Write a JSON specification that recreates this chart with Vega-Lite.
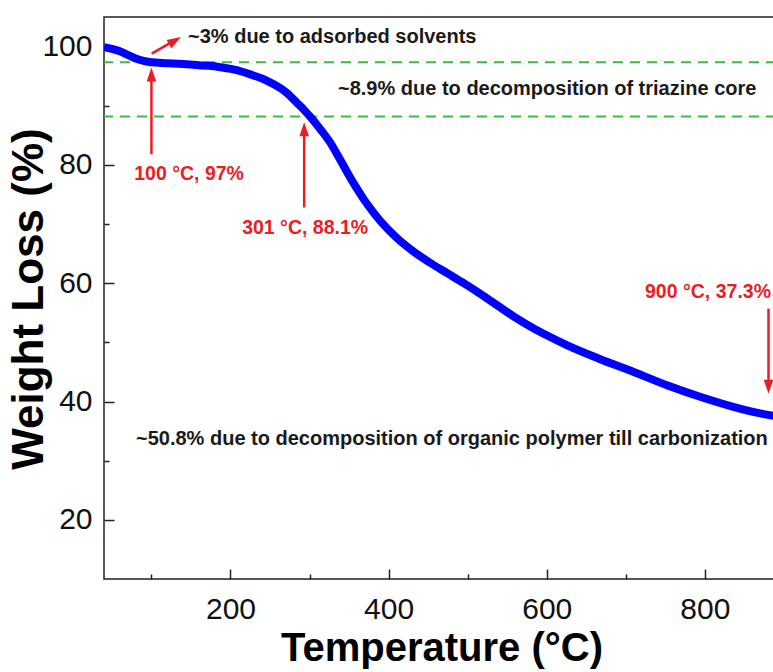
{
  "$schema": "https://vega.github.io/schema/vega-lite/v6.json",
  "autosize": "none",
  "width": 672,
  "height": 562,
  "padding": {"left": 104, "top": 17, "right": 0, "bottom": 93},
  "background": "white",
  "config": {
    "view": {"stroke": "#222222", "strokeWidth": 1.5},
    "axis": {
      "grid": false,
      "domain": false,
      "tickColor": "#222222",
      "tickWidth": 1.5,
      "labelColor": "#111111",
      "labelFont": "Liberation Sans",
      "labelFontSize": 30,
      "titleFont": "Liberation Sans",
      "titleFontWeight": "bold",
      "titleColor": "#000000"
    }
  },
  "datasets": {
    "tga": [
      {"T": 40, "W": 99.9}, {"T": 50, "W": 99.6}, {"T": 60, "W": 99.2}, {"T": 70, "W": 98.6},
      {"T": 81, "W": 97.95}, {"T": 90, "W": 97.6}, {"T": 100, "W": 97.35}, {"T": 120, "W": 97.2},
      {"T": 140, "W": 97.05}, {"T": 160, "W": 96.85}, {"T": 183, "W": 96.6}, {"T": 205, "W": 96.1},
      {"T": 225, "W": 95.3}, {"T": 245, "W": 94.3}, {"T": 259, "W": 93.3}, {"T": 270, "W": 92.3},
      {"T": 284, "W": 90.5}, {"T": 293, "W": 89.3}, {"T": 301, "W": 88.1}, {"T": 315, "W": 85.8},
      {"T": 326, "W": 83.8}, {"T": 337, "W": 81.3}, {"T": 347, "W": 78.9}, {"T": 358, "W": 76.4},
      {"T": 368, "W": 74.3}, {"T": 380, "W": 72.1}, {"T": 389, "W": 70.6}, {"T": 410, "W": 67.7},
      {"T": 431, "W": 65.4}, {"T": 452, "W": 63.5}, {"T": 474, "W": 61.7}, {"T": 495, "W": 60.0},
      {"T": 516, "W": 58.2}, {"T": 537, "W": 56.3}, {"T": 558, "W": 54.4}, {"T": 583, "W": 52.4},
      {"T": 600, "W": 51.2}, {"T": 626, "W": 49.5}, {"T": 667, "W": 47.2}, {"T": 710, "W": 45.0},
      {"T": 753, "W": 42.7}, {"T": 794, "W": 40.8}, {"T": 836, "W": 39.1}, {"T": 870, "W": 38.0},
      {"T": 900, "W": 37.3}
    ],
    "levels": [{"W": 97.35}, {"W": 88.2}],
    "shafts": [
      {"x": 100, "x2": 100, "y": 81.8, "y2": 95.0},
      {"x": 293.2, "x2": 293.2, "y": 72.8, "y2": 86.0},
      {"x": 880.5, "x2": 880.5, "y": 55.7, "y2": 42.6},
      {"x": 100.3, "x2": 130, "y": 98.8, "y2": 101.1}
    ],
    "heads": [
      {"x": 100, "y": 96.45, "a": 0},
      {"x": 293.2, "y": 87.2, "a": 0},
      {"x": 880.5, "y": 41.3, "a": 180},
      {"x": 137.5, "y": 101.6, "a": 60}
    ],
    "notes": [
      {"x": 146.3, "y": 101.6, "t": "~3% due to adsorbed solvents"},
      {"x": 336, "y": 92.8, "t": "~8.9% due to decomposition of triazine core"},
      {"x": 80.5, "y": 33.6, "t": "~50.8% due to decomposition of organic polymer till carbonization"}
    ],
    "points": [
      {"x": 147.6, "y": 78.4, "t": "100 °C, 97%"},
      {"x": 294.4, "y": 69.4, "t": "301 °C, 88.1%"},
      {"x": 804, "y": 58.5, "t": "900 °C, 37.3%"}
    ]
  },
  "layer": [
    {
      "data": {"name": "levels"},
      "mark": {"type": "rule", "color": "#3dbb3d", "strokeWidth": 2, "strokeDash": [10, 7]},
      "encoding": {
        "y": {"field": "W", "type": "quantitative", "scale": {"domain": [10, 105]}, "axis": null}
      }
    },
    {
      "data": {"name": "tga"},
      "mark": {"type": "line", "color": "#0000ff", "strokeWidth": 8, "interpolate": "monotone", "clip": true},
      "encoding": {
        "x": {
          "field": "T", "type": "quantitative",
          "scale": {"domain": [40, 890], "nice": false},
          "axis": {
            "values": [200, 400, 600, 800],
            "offset": -10,
            "tickSize": 10,
            "labelPadding": 15,
            "title": "Temperature (°C)",
            "titleFontSize": 40,
            "titleX": 337.5,
            "titleY": 91,
            "titleAlign": "center",
            "titleBaseline": "alphabetic"
          }
        },
        "y": {
          "field": "W", "type": "quantitative",
          "scale": {"domain": [10, 105], "nice": false},
          "axis": {
            "values": [20, 40, 60, 80, 100],
            "offset": -10,
            "tickSize": 10,
            "labelPadding": 12,
            "title": "Weight Loss (%)",
            "titleFontSize": 44,
            "titleAngle": -90,
            "titleX": -72,
            "titleY": 281.5,
            "titleAlign": "center",
            "titleBaseline": "alphabetic"
          }
        }
      }
    },
    {
      "data": {"name": "shafts"},
      "mark": {"type": "rule", "color": "#ec1c24", "strokeWidth": 2.5},
      "encoding": {
        "x": {
          "field": "x", "type": "quantitative", "scale": {"domain": [40, 890], "nice": false},
          "axis": {"orient": "bottom", "values": [100, 300, 500, 700], "labels": false, "offset": -5, "tickSize": 5, "title": null}
        },
        "x2": {"field": "x2"},
        "y": {
          "field": "y", "type": "quantitative", "scale": {"domain": [10, 105], "nice": false},
          "axis": {"orient": "left", "values": [30, 50, 70, 90], "labels": false, "offset": -5, "tickSize": 5, "title": null}
        },
        "y2": {"field": "y2"}
      }
    },
    {
      "data": {"name": "heads"},
      "mark": {"type": "point", "shape": "M0,0L0.55,1.6L-0.55,1.6Z", "size": 306, "filled": true, "color": "#ec1c24", "opacity": 1},
      "encoding": {
        "x": {"field": "x", "type": "quantitative", "scale": {"domain": [40, 890], "nice": false}, "axis": null},
        "y": {"field": "y", "type": "quantitative", "scale": {"domain": [10, 105], "nice": false}, "axis": null},
        "angle": {"field": "a", "type": "quantitative", "scale": null}
      }
    },
    {
      "data": {"name": "notes"},
      "mark": {"type": "text", "align": "left", "baseline": "middle", "font": "Liberation Sans", "fontWeight": "bold", "fontSize": 20, "color": "#1a1a1a"},
      "encoding": {
        "x": {"field": "x", "type": "quantitative", "scale": {"domain": [40, 890], "nice": false}, "axis": null},
        "y": {"field": "y", "type": "quantitative", "scale": {"domain": [10, 105], "nice": false}, "axis": null},
        "text": {"field": "t"}
      }
    },
    {
      "data": {"name": "points"},
      "mark": {"type": "text", "align": "center", "baseline": "middle", "font": "Liberation Sans", "fontWeight": "bold", "fontSize": 19.5, "color": "#ec1c24"},
      "encoding": {
        "x": {"field": "x", "type": "quantitative", "scale": {"domain": [40, 890], "nice": false}, "axis": null},
        "y": {"field": "y", "type": "quantitative", "scale": {"domain": [10, 105], "nice": false}, "axis": null},
        "text": {"field": "t"}
      }
    }
  ],
  "resolve": {"axis": {"x": "independent", "y": "independent"}}
}
